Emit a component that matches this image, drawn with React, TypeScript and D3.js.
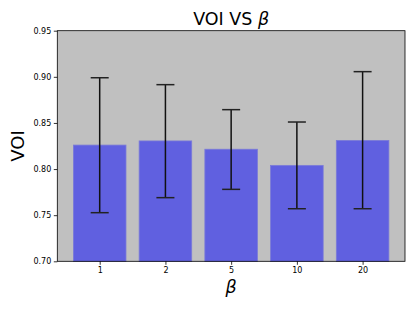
import React, { useRef, useEffect } from 'react';
import * as d3 from 'd3';

const categories = ['1', '2', '5', '10', '20'];
const means = [0.826, 0.8305, 0.8215, 0.804, 0.831];
const upper = [0.899, 0.8915, 0.8644, 0.851, 0.9056];
const lower = [0.7527, 0.769, 0.778, 0.757, 0.757];
const yTicks = [0.7, 0.75, 0.8, 0.85, 0.9, 0.95];

const W = 415;
const H = 311;

const App = () => {
    const svgRef = useRef<SVGSVGElement>(null);

    useEffect(() => {
        const svg = d3.select(svgRef.current);
        svg.selectAll('*').remove();

        const margin = { top: 30.7, right: 10, bottom: 49.7, left: 57.3 };
        const width = W - margin.left - margin.right;
        const height = H - margin.top - margin.bottom;
        const font = 'DejaVu Sans, sans-serif';

        const x = d3.scaleLinear().domain([-0.645, 4.645]).range([0, width]);
        const y = d3.scaleLinear().domain([0.7, 0.95]).range([height, 0]);

        const g = svg.append('g').attr('transform', `translate(${margin.left},${margin.top})`);

        g.append('rect').attr('width', width).attr('height', height).attr('fill', '#c0c0c0');

        const bw = x(0.4) - x(0);
        g.selectAll('.bar')
            .data(means)
            .join('rect')
            .attr('x', (d, i) => x(i) - bw)
            .attr('y', d => y(d))
            .attr('width', bw * 2)
            .attr('height', d => height - y(d))
            .attr('fill', '#6060e0')
            .attr('stroke', '#7b7bd8')
            .attr('stroke-width', 0.8);

        const cap = 9;
        means.forEach((m, i) => {
            const cx = x(i);
            g.append('line')
                .attr('x1', cx).attr('x2', cx)
                .attr('y1', y(upper[i])).attr('y2', y(lower[i]))
                .attr('stroke', '#111').attr('stroke-width', 1.5);
            [upper[i], lower[i]].forEach(v => {
                g.append('line')
                    .attr('x1', cx - cap).attr('x2', cx + cap)
                    .attr('y1', y(v)).attr('y2', y(v))
                    .attr('stroke', '#222').attr('stroke-width', 1.5);
            });
        });

        // frame
        g.append('rect')
            .attr('width', width).attr('height', height)
            .attr('fill', 'none').attr('stroke', '#000').attr('stroke-width', 0.8);

        const yAxis = g.append('g').call(
            d3.axisLeft(y).tickValues(yTicks).tickFormat(d3.format('.2f')).tickSize(3.5).tickPadding(2.5)
        );
        yAxis.select('.domain').remove();

        const xAxis = g.append('g')
            .attr('transform', `translate(0,${height})`)
            .call(
                d3.axisBottom(x)
                    .tickValues(d3.range(categories.length))
                    .tickFormat((d: any) => categories[d])
                    .tickSize(3.5)
                    .tickPadding(2.5)
            );
        xAxis.select('.domain').remove();

        [yAxis, xAxis].forEach(a => {
            a.selectAll('text').attr('font-family', font).attr('font-size', 8).attr('fill', '#000');
            a.selectAll('line').attr('stroke', '#000').attr('stroke-width', 0.8);
        });

        svg.append('text')
            .attr('x', margin.left + width / 2)
            .attr('y', 24.5)
            .attr('text-anchor', 'middle')
            .attr('font-family', font)
            .attr('font-size', 17.5)
            .text('VOI VS ')
            .append('tspan')
            .attr('font-style', 'italic')
            .text('β');

        svg.append('text')
            .attr('transform', `translate(23.5,${margin.top + height / 2}) rotate(-90)`)
            .attr('text-anchor', 'middle')
            .attr('font-family', font)
            .attr('font-size', 18)
            .text('VOI');

        svg.append('text')
            .attr('x', margin.left + width / 2)
            .attr('y', 293)
            .attr('text-anchor', 'middle')
            .attr('font-family', font)
            .attr('font-style', 'italic')
            .attr('font-size', 17.5)
            .text('β');
    }, []);

    return (
        <div style={{ position: 'absolute', left: 0, top: 0 }}>
            <svg ref={svgRef} width={W} height={H} style={{ display: 'block' }} />
        </div>
    );
};

export default App;
